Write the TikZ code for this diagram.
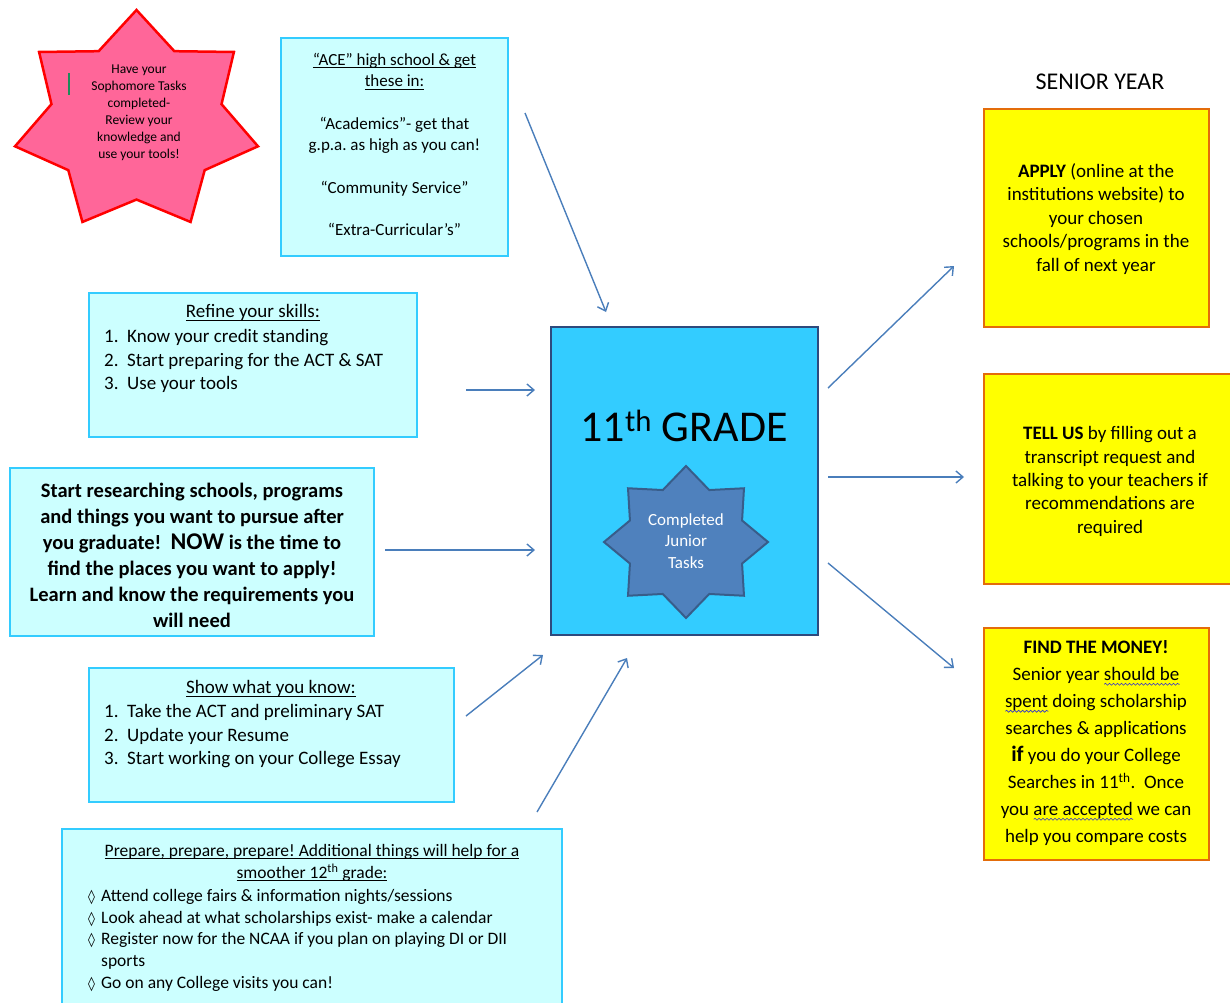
\documentclass[tikz,border=0pt]{standalone}
\usepackage{fontspec}
\setmainfont{Carlito}
\newfontfamily\diamondfont{DejaVu Sans}
\usetikzlibrary{arrows.meta,decorations.pathmorphing}
\frenchspacing

\definecolor{boxfill}{HTML}{CCFFFF}
\definecolor{boxline}{HTML}{33CCFF}
\definecolor{gradeblue}{HTML}{33CCFF}
\definecolor{navyline}{HTML}{2E4A7D}
\definecolor{pinkfill}{HTML}{FF6699}
\definecolor{pinkline}{HTML}{FF0000}
\definecolor{juniorfill}{HTML}{4F81BD}
\definecolor{juniorline}{HTML}{385D8A}
\definecolor{yellowfill}{HTML}{FFFF00}
\definecolor{orangeline}{HTML}{E46C0A}
\definecolor{arrowblue}{HTML}{4A7EBB}
\definecolor{wavecol}{HTML}{3333CC}
\definecolor{cursorgreen}{HTML}{1E8C5A}

\newcommand\titleline[1]{{\setbox0\hbox{#1}\rlap{\rule[-2.8pt]{\wd0}{1pt}}\box0}}
\newcommand\spellwave[1]{{\setbox0\hbox{#1}\rlap{\lower5pt\hbox{\tikz[x=1pt,y=1pt]\draw[wavecol, line width=0.6pt, decorate, decoration={snake, amplitude=1pt, segment length=4pt}] (0pt,0pt) -- (\the\wd0,0pt);}}\box0}}
\newcommand\lozitem{\makebox[13pt][l]{\diamondfont\fontsize{14}{14}\selectfont ◊}}

\begin{document}
\begin{tikzpicture}[x=1pt, y=1pt,
    cyanbox/.style={draw=boxline, fill=boxfill, line width=2.5pt, inner sep=0pt},
    yellowbox/.style={draw=orangeline, fill=yellowfill, line width=2.5pt, inner sep=0pt},
    txt/.style={inner sep=0pt, align=center, text=black},
    listtxt/.style={inner sep=0pt, align=left, anchor=north west, text=black},
    flow/.style={draw=arrowblue, line width=1.4pt, -{Straight Barb[length=7pt,width=12pt]}}]
    \useasboundingbox (0,0) rectangle (1230,-1002);

    \begin{scope}[shift={(136.5,-121.5)}]
        \draw[draw=pinkline, fill=pinkfill, line width=2.5pt, line join=miter]
            (0,111.5)
            \foreach \i [evaluate=\i as \a using {90+\i*180/7},
                         evaluate=\i as \f using {1-0.3*mod(\i,2)}] in {1,...,13}
                { -- ({124.6*\f*cos(\a)},{111.5*\f*sin(\a)}) } -- cycle;
    \end{scope}
    \draw[cursorgreen, line width=1.5pt] (69,-73) -- (69,-95);
    \node[txt, anchor=north, font=\fontsize{13.5}{17}\selectfont] (soph) at (139,-64.5)
        {Have your\\Sophomore Tasks\\completed-\\Review your\\knowledge and\\use your tools!};

    \node[cyanbox, minimum width=227pt, minimum height=218pt] (ace) at (394.5,-147) {};
    \node[txt, anchor=north, font=\fontsize{17}{21.3}\selectfont] (acetext) at (394.5,-53)
        {\titleline{“ACE” high school \& get}\\\titleline{these in:}\\[21.3pt]
         “Academics”- get that\\g.p.a. as high as you can!\\[21.3pt]
         “Community Service”\\[21.3pt]“Extra-Curricular’s”};

    \node[cyanbox, minimum width=328pt, minimum height=144pt] (refine) at (253,-365) {};
    \node[txt, anchor=north, font=\fontsize{19}{23.5}\selectfont] (refinetitle) at (253,-304.4)
        {\titleline{Refine your skills:}};
    \node[listtxt, font=\fontsize{19}{23.5}\selectfont] (refinelist) at (104,-329.4)
        {\makebox[23pt][l]{1.}Know your credit standing\\
         \makebox[23pt][l]{2.}Start preparing for the ACT \& SAT\\
         \makebox[23pt][l]{3.}Use your tools};

    \node[cyanbox, minimum width=364pt, minimum height=168pt] (research) at (192,-552) {};
    \node[txt, anchor=north, font=\bfseries\fontsize{20.5}{26}\selectfont] (researchtext) at (192,-483)
        {Start researching schools, programs\\and things you want to pursue after\\
         you graduate!\ \ {\fontsize{24}{26}\selectfont NOW} is the time to\\
         find the places you want to apply!\\Learn and know the requirements you\\will need};

    \node[cyanbox, minimum width=365pt, minimum height=134pt] (show) at (271.5,-735) {};
    \node[txt, anchor=north, font=\fontsize{19}{23.5}\selectfont] (showtitle) at (271,-680.4)
        {\titleline{Show what you know:}};
    \node[listtxt, font=\fontsize{19}{23.5}\selectfont] (showlist) at (104,-704.4)
        {\makebox[23pt][l]{1.}Take the ACT and preliminary SAT\\
         \makebox[23pt][l]{2.}Update your Resume\\
         \makebox[23pt][l]{3.}Start working on your College Essay};

    \node[cyanbox, minimum width=500pt, minimum height=192pt] (prepare) at (312,-925) {};
    \node[txt, anchor=north, font=\fontsize{17.5}{22}\selectfont] (preparetitle) at (312,-844)
        {\titleline{Prepare, prepare, prepare! Additional things will help for a}\\
         \titleline{smoother 12\textsuperscript{th} grade:}};
    \node[listtxt, font=\fontsize{17.5}{21.8}\selectfont] (preparelist) at (88,-889)
        {\lozitem Attend college fairs \& information nights/sessions\\
         \lozitem Look ahead at what scholarships exist- make a calendar\\
         \lozitem Register now for the NCAA if you plan on playing DI or DII\\
         \hspace*{13pt}sports\\
         \lozitem Go on any College visits you can!};

    \node[draw=navyline, fill=gradeblue, line width=2.5pt, minimum width=267pt, minimum height=308pt] (grade) at (684.5,-481) {};
    \node[txt, anchor=base, font=\fontsize{44}{50}\selectfont] (gradetext) at (684,-441)
        {11\textsuperscript{th} GRADE};
    \begin{scope}[shift={(686,-542)}]
        \draw[draw=juniorline, fill=juniorfill, line width=2pt]
            (0,76)
            \foreach \i [evaluate=\i as \a using {90+\i*22.5},
                         evaluate=\i as \f using {1-0.26*mod(\i,2)}] in {1,...,15}
                { -- ({82*\f*cos(\a)},{76*\f*sin(\a)}) } -- cycle;
    \end{scope}
    \node[txt, text=white, font=\fontsize{17}{21.5}\selectfont] (junior) at (686,-541)
        {Completed\\Junior\\Tasks};

    \node[txt, font=\fontsize{24}{28}\selectfont] (senior) at (1100,-82) {SENIOR YEAR};

    \node[yellowbox, minimum width=225pt, minimum height=218pt] (apply) at (1096.5,-218) {};
    \node[txt, anchor=north, font=\fontsize{19}{23.5}\selectfont] (applytext) at (1096,-163.4)
        {\textbf{APPLY} (online at the\\institutions website) to\\your chosen\\
         schools/programs in the\\fall of next year};

    \node[yellowbox, minimum width=266pt, minimum height=210pt] (tell) at (1117,-479) {};
    \node[txt, anchor=north, font=\fontsize{19}{23.3}\selectfont] (telltext) at (1110,-426.4)
        {\textbf{TELL US} by filling out a\\transcript request and\\
         talking to your teachers if\\recommendations are\\required};

    \node[yellowbox, minimum width=225pt, minimum height=232pt] (find) at (1096.5,-744) {};
    \node[txt, anchor=north, font=\fontsize{19}{27}\selectfont] (findtext) at (1096,-640.4)
        {\textbf{FIND THE MONEY!}\\Senior year \spellwave{should be}\\
         \spellwave{spent} doing scholarship\\searches \& applications\\
         {\bfseries\fontsize{22}{27}\selectfont if} you do your College\\
         Searches in 11\textsuperscript{th}.\ \ Once\\
         you \spellwave{are accepted} we can\\help you compare costs};

    \coordinate (acetail) at (525,-113);
    \coordinate (acehead) at (606,-312);
    \coordinate (refinetail) at (466,-390);
    \coordinate (refinehead) at (535,-390);
    \coordinate (researchtail) at (385,-550);
    \coordinate (researchhead) at (535,-550);
    \coordinate (showtail) at (466,-716);
    \coordinate (showhead) at (543,-655);
    \coordinate (preparetail) at (537,-812);
    \coordinate (preparehead) at (627,-658);
    \coordinate (applytail) at (828,-388);
    \coordinate (applyhead) at (954,-266);
    \coordinate (telltail) at (828,-477);
    \coordinate (tellhead) at (964,-477);
    \coordinate (findtail) at (828,-563);
    \coordinate (findhead) at (954,-668);
    \foreach \s in {ace,refine,research,show,prepare,apply,tell,find}
        \draw[flow] (\s tail) -- (\s head);
\end{tikzpicture}
\end{document}
